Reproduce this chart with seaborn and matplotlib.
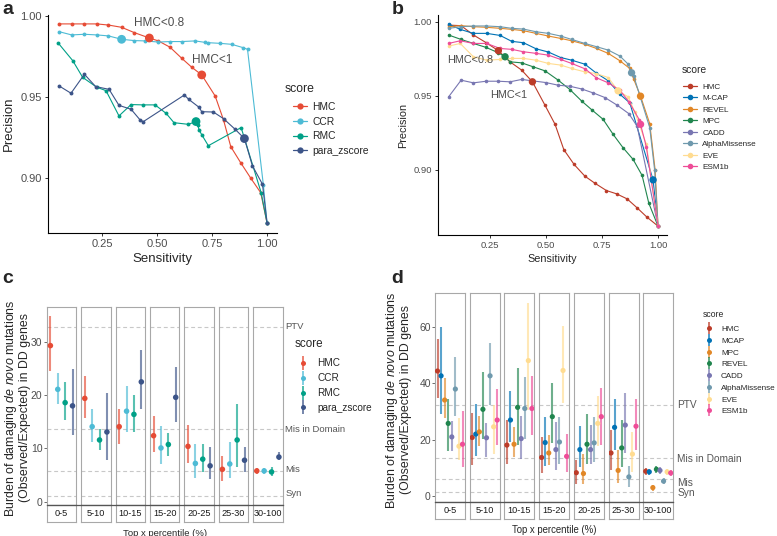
import numpy as np
import pandas as pd
import matplotlib
matplotlib.use("Agg")
import matplotlib.pyplot as plt
from matplotlib.lines import Line2D
import seaborn as sns

W, H = 777, 536

# ---------------- panel a : precision vs sensitivity ----------------
a_scores = ["HMC", "CCR", "RMC", "para_zscore"]
a_palette = ["#E64B35", "#4DBBD5", "#00A087", "#3C5488"]

a_hmc_sens = [0.055, 0.112, 0.170, 0.226, 0.279, 0.339, 0.397, 0.465, 0.506, 0.559,
              0.612, 0.658, 0.703, 0.764, 0.802, 0.835, 0.880, 0.926, 0.971, 1.000]
a_hmc_prec = [0.9951, 0.9951, 0.9951, 0.9951, 0.9944, 0.9930, 0.9897, 0.9864, 0.9846, 0.9807,
              0.9739, 0.9683, 0.9636, 0.9506, 0.9358, 0.9193, 0.9094, 0.8998, 0.8909, 0.8720]
a_ccr_sens = [0.055, 0.112, 0.170, 0.226, 0.279, 0.339, 0.397, 0.445, 0.506, 0.559,
              0.612, 0.673, 0.718, 0.733, 0.786, 0.839, 0.892, 0.911, 0.983, 1.000]
a_ccr_prec = [0.9903, 0.9883, 0.9887, 0.9883, 0.9877, 0.9856, 0.9848, 0.9846, 0.9839, 0.9842,
              0.9842, 0.9846, 0.9837, 0.9835, 0.9831, 0.9825, 0.9804, 0.9794, 0.8957, 0.8720]
a_rmc_sens = [0.052, 0.117, 0.162, 0.226, 0.268, 0.327, 0.382, 0.435, 0.491, 0.541,
              0.577, 0.642, 0.677, 0.685, 0.691, 0.703, 0.733, 0.882, 0.973, 1.000]
a_rmc_prec = [0.9831, 0.9724, 0.9621, 0.9560, 0.9539, 0.9383, 0.9453, 0.9451, 0.9451, 0.9399,
              0.9341, 0.9331, 0.9348, 0.9327, 0.9296, 0.9267, 0.9199, 0.9311, 0.8909, 0.8720]
a_para_sens = [0.055, 0.109, 0.170, 0.221, 0.282, 0.327, 0.382, 0.423, 0.438, 0.624,
               0.644, 0.691, 0.703, 0.756, 0.802, 0.855, 0.897, 0.933, 0.979, 1.000]
a_para_prec = [0.9568, 0.9523, 0.9640, 0.9564, 0.9547, 0.9448, 0.9424, 0.9358, 0.9348, 0.9512,
               0.9485, 0.9436, 0.9409, 0.9407, 0.9366, 0.9300, 0.9243, 0.9076, 0.8961, 0.8720]

a_big_score = ["HMC", "HMC", "CCR", "RMC", "para_zscore"]
a_big_sens = [0.465, 0.703, 0.339, 0.677, 0.897]
a_big_prec = [0.9864, 0.9636, 0.9856, 0.9348, 0.9243]
a_notes = ["HMC<0.8", "HMC<1"]
a_note_sens = [0.51, 0.75]
a_note_prec = [0.9957, 0.9728]

# ---------------- panel b ----------------
b_scores = ["HMC", "M-CAP", "REVEL", "MPC", "CADD", "AlphaMissense", "EVE", "ESM1b"]
b_palette = ["#BC3C29", "#0072B5", "#E18727", "#20854E", "#7876B1", "#6F99AD", "#FFDC91", "#EE4C97"]

b_hmc_sens = [0.066, 0.122, 0.177, 0.234, 0.288, 0.340, 0.392, 0.440, 0.496, 0.541,
              0.580, 0.626, 0.674, 0.718, 0.770, 0.815, 0.862, 0.907, 0.951, 1.000]
b_hmc_prec = [0.9977, 0.9973, 0.9910, 0.9858, 0.9804, 0.9729, 0.9673, 0.9594, 0.9436, 0.9307,
              0.9136, 0.9036, 0.8957, 0.8910, 0.8860, 0.8838, 0.8804, 0.8743, 0.8680, 0.8620]
b_mcap_sens = [0.066, 0.118, 0.177, 0.236, 0.296, 0.348, 0.400, 0.456, 0.511, 0.566,
               0.615, 0.674, 0.723, 0.778, 0.830, 0.874, 0.978, 1.000]
b_mcap_prec = [0.9984, 0.9948, 0.9921, 0.9921, 0.9907, 0.9867, 0.9858, 0.9817, 0.9795, 0.9758,
               0.9740, 0.9713, 0.9655, 0.9601, 0.9510, 0.9452, 0.8932, 0.8620]
b_revel_sens = [0.066, 0.122, 0.177, 0.234, 0.296, 0.348, 0.400, 0.456, 0.511, 0.566,
                0.615, 0.674, 0.726, 0.778, 0.830, 0.874, 0.892, 0.922, 0.963, 0.987, 1.000]
b_revel_prec = [0.9966, 0.9973, 0.9966, 0.9962, 0.9955, 0.9948, 0.9939, 0.9921, 0.9903, 0.9887,
                0.9871, 0.9847, 0.9819, 0.9786, 0.9736, 0.9684, 0.9610, 0.9497, 0.9312, 0.9000, 0.8620]
b_mpc_sens = [0.066, 0.122, 0.177, 0.234, 0.288, 0.318, 0.340, 0.392, 0.444, 0.496,
              0.555, 0.607, 0.659, 0.707, 0.755, 0.800, 0.844, 0.889, 0.929, 0.959, 1.000]
b_mpc_prec = [0.9910, 0.9880, 0.9853, 0.9826, 0.9790, 0.9763, 0.9729, 0.9722, 0.9695, 0.9668,
              0.9605, 0.9542, 0.9465, 0.9402, 0.9341, 0.9239, 0.9149, 0.9070, 0.8962, 0.8774, 0.8620]
b_cadd_sens = [0.066, 0.122, 0.177, 0.234, 0.288, 0.340, 0.392, 0.444, 0.500, 0.555,
               0.607, 0.659, 0.711, 0.763, 0.818, 0.870, 0.907, 1.000]
b_cadd_prec = [0.9492, 0.9605, 0.9587, 0.9598, 0.9598, 0.9594, 0.9610, 0.9600, 0.9589, 0.9571,
               0.9564, 0.9546, 0.9519, 0.9488, 0.9436, 0.9379, 0.9294, 0.8620]
b_am_sens = [0.066, 0.122, 0.177, 0.234, 0.296, 0.348, 0.400, 0.456, 0.511, 0.566,
             0.615, 0.674, 0.726, 0.778, 0.830, 0.867, 0.882, 0.892, 0.963, 0.985, 1.000]
b_am_prec = [0.9955, 0.9966, 0.9971, 0.9971, 0.9966, 0.9955, 0.9950, 0.9932, 0.9921, 0.9903,
             0.9880, 0.9853, 0.9831, 0.9808, 0.9768, 0.9713, 0.9655, 0.9632, 0.9285, 0.8996, 0.8620]
b_eve_sens = [0.066, 0.118, 0.177, 0.236, 0.296, 0.348, 0.400, 0.456, 0.511, 0.566,
              0.615, 0.674, 0.723, 0.778, 0.822, 0.867, 0.896, 0.948, 1.000]
b_eve_prec = [0.9835, 0.9853, 0.9763, 0.9740, 0.9745, 0.9752, 0.9752, 0.9740, 0.9718, 0.9707,
              0.9684, 0.9661, 0.9650, 0.9623, 0.9533, 0.9492, 0.9391, 0.9172, 0.8620]
b_esm_sens = [0.066, 0.118, 0.177, 0.236, 0.296, 0.348, 0.400, 0.456, 0.511, 0.566,
              0.615, 0.674, 0.723, 0.778, 0.830, 0.871, 0.916, 0.922, 0.948, 1.000]
b_esm_prec = [0.9853, 0.9871, 0.9853, 0.9853, 0.9819, 0.9813, 0.9797, 0.9786, 0.9774, 0.9745,
              0.9718, 0.9682, 0.9623, 0.9587, 0.9537, 0.9458, 0.9339, 0.9307, 0.9154, 0.8620]

b_big_score = ["HMC", "HMC", "MPC", "M-CAP", "REVEL", "AlphaMissense", "EVE", "ESM1b"]
b_big_sens = [0.288, 0.440, 0.318, 0.978, 0.922, 0.882, 0.822, 0.922]
b_big_prec = [0.9804, 0.9594, 0.9763, 0.8932, 0.9497, 0.9655, 0.9533, 0.9307]
b_notes = ["HMC<0.8", "HMC<1"]
b_note_sens = [0.162, 0.335]
b_note_prec = [0.9741, 0.9504]

# ---------------- panels c / d : burden (obs/exp) per percentile bin ----------------
bins = ["0-5", "5-10", "10-15", "15-20", "20-25", "25-30", "30-100"]
ref_names = ["PTV", "Mis in Domain", "Mis", "Syn"]

c_scores = ["HMC", "CCR", "RMC", "para_zscore"]
c_mid = [[29.3, 21.1, 18.6, 18.0],
         [19.4, 14.1, 11.6, 13.1],
         [14.1, 17.0, 16.4, 22.5],
         [12.4, 10.1, 10.75, 19.6],
         [10.4, 7.2, 8.0, 6.75],
         [6.1, 7.1, 11.6, 7.8],
         [5.8, 5.8, 5.6, 8.4]]
c_lo = [[24.6, 18.4, 15.3, 12.6],
        [15.75, 11.25, 9.7, 7.8],
        [10.9, 13.1, 13.1, 17.5],
        [9.25, 7.0, 8.6, 14.9],
        [7.2, 4.5, 5.6, 4.2],
        [3.9, 4.4, 6.6, 5.6],
        [5.2, 5.2, 4.8, 7.8]]
c_hi = [[34.9, 24.1, 22.4, 24.9],
        [23.6, 17.5, 13.75, 20.5],
        [17.5, 21.75, 20.1, 28.4],
        [16.1, 14.25, 13.0, 25.3],
        [14.4, 10.75, 10.75, 10.3],
        [8.6, 11.25, 18.4, 10.3],
        [6.4, 6.4, 6.6, 9.4]]
c_ref = [32.8, 13.7, 5.8, 1.0]

d_scores = ["HMC", "MCAP", "MPC", "REVEL", "CADD", "AlphaMissense", "EVE", "ESM1b"]
d_mid = [[44.4, 42.7, 34.1, 25.8, 21.0, 38.0, 17.7, 18.4],
         [20.8, 22.0, 22.8, 30.8, 20.7, 42.7, 24.6, 27.0],
         [18.1, 27.0, 18.4, 31.5, 20.4, 31.1, 48.1, 31.1],
         [13.7, 19.0, 15.3, 28.2, 16.5, 19.2, 44.6, 14.1],
         [8.3, 16.5, 8.0, 18.4, 16.5, 18.9, 25.8, 28.2],
         [15.3, 24.4, 9.1, 17.1, 25.2, 6.8, 14.9, 24.8],
         [8.8, 8.6, 3.0, 9.5, 9.1, 5.3, 8.6, 8.2]]
d_lo = [[34.7, 29.1, 27.6, 16.0, 16.0, 28.4, 12.7, 10.3],
        [10.9, 14.1, 17.7, 20.4, 13.9, 32.3, 14.9, 18.1],
        [11.5, 19.2, 13.9, 18.1, 13.3, 20.4, 30.5, 21.6],
        [8.2, 10.6, 10.9, 18.9, 9.1, 11.5, 32.9, 8.6],
        [4.4, 10.3, 4.4, 11.3, 11.3, 12.1, 17.7, 18.1],
        [9.1, 16.5, 4.6, 10.3, 15.3, 3.2, 8.6, 16.5],
        [7.6, 7.4, 1.8, 8.3, 8.0, 4.4, 7.4, 7.0]]
d_hi = [[55.7, 60.0, 41.8, 34.3, 26.7, 49.3, 27.6, 30.3],
        [29.6, 32.7, 28.4, 44.2, 25.8, 54.5, 32.3, 37.9],
        [27.0, 37.4, 24.4, 45.4, 28.4, 42.2, 68.6, 42.7],
        [21.0, 28.2, 21.6, 40.3, 26.4, 28.2, 60.5, 22.0],
        [12.7, 24.8, 15.1, 29.1, 25.2, 27.9, 35.5, 38.3],
        [23.6, 34.3, 16.3, 27.0, 36.5, 10.6, 22.8, 34.3],
        [10.0, 9.7, 4.0, 10.6, 10.3, 6.4, 9.7, 9.4]]
d_ref = [32.4, 13.6, 5.9, 1.3]


# ---------------- helpers ----------------
def px_box(l, t, r, b):
    return [l / W, 1 - b / H, (r - l) / W, (b - t) / H]


def long_df(names, sens_lists, prec_lists):
    parts = [pd.DataFrame({"score": n, "sens": s, "prec": p})
             for n, s, p in zip(names, sens_lists, prec_lists)]
    return pd.concat(parts, ignore_index=True)


def pr_panel(box, df, big, order, palette, xlim, ylim, yticks, notes, fs):
    ax = fig.add_axes(box)
    sns.lineplot(data=df, x="sens", y="prec", hue="score", hue_order=order, palette=palette,
                 sort=False, estimator=None, marker="o", markersize=fs["ms"], markeredgewidth=0,
                 linewidth=0.8, legend=False, ax=ax)
    sns.scatterplot(data=big, x="sens", y="prec", hue="score", hue_order=order, palette=palette,
                    s=fs["big"], linewidth=0, legend=False, ax=ax, zorder=5)
    for txt, x, y in zip(*notes):
        ax.text(x, y, txt, ha="center", va="center", fontsize=fs["note"], color="#4D4D4D")
    ax.set_xlim(*xlim)
    ax.set_ylim(*ylim)
    ax.set_xticks([0.25, 0.50, 0.75, 1.00])
    ax.set_xticklabels(["0.25", "0.50", "0.75", "1.00"])
    ax.set_yticks(yticks)
    ax.set_yticklabels([f"{v:.2f}" for v in yticks])
    sns.despine(ax=ax)
    for s in ("left", "bottom"):
        ax.spines[s].set_color("black")
        ax.spines[s].set_linewidth(0.8)
    ax.tick_params(bottom=True, left=True, length=2.5, width=0.7, color="#333333",
                   labelsize=fs["tick"], labelcolor="#4D4D4D", pad=2)
    ax.set_xlabel("Sensitivity", fontsize=fs["lab"], labelpad=3)
    ax.set_ylabel("Precision", fontsize=fs["lab"], labelpad=4)
    return ax


def line_legend(order, palette, title, tx, ty, left, top, fs, tfs, h, pad, sp, ms):
    fig.text(tx / W, 1 - ty / H, title, fontsize=tfs, va="center", ha="left")
    handles = [Line2D([0], [0], color=c, lw=0.9, marker="o", ms=ms, mew=0) for c in palette]
    fig.legend(handles, order, loc="upper left", bbox_to_anchor=(left / W, 1 - top / H),
               frameon=False, fontsize=fs, handlelength=h, handletextpad=pad,
               labelspacing=sp, borderpad=0, borderaxespad=0)


def range_legend(order, palette, title, tx, ty, left, top, fs, tfs, h, pad, sp, bar):
    fig.text(tx / W, 1 - ty / H, title, fontsize=tfs, va="center", ha="left")
    handles = [(Line2D([], [], ls="", marker="|", ms=bar, mew=1.4, color=c, alpha=0.7),
                Line2D([], [], ls="", marker="o", ms=3.6, mew=0, color=c)) for c in palette]
    fig.legend(handles, order, loc="upper left", bbox_to_anchor=(left / W, 1 - top / H),
               frameon=False, fontsize=fs, handlelength=h, handletextpad=pad,
               labelspacing=sp, borderpad=0, borderaxespad=0)


def burden_panel(x0, fw, gap, top, bottom, strip_h, scores, palette, mid, lo, hi,
                 ref, ref_nudge, ylim, yticks, fs):
    axes = []
    n = len(scores)
    for i, b in enumerate(bins):
        left = x0 + i * (fw + gap)
        ax = fig.add_axes(px_box(left, top, left + fw, bottom))
        fd = pd.DataFrame({"pos": np.arange(n), "score": scores,
                           "mid": mid[i], "lo": lo[i], "hi": hi[i]})
        for y in ref:
            ax.axhline(y, color="#C8C8C8", lw=0.8, ls=(0, (3.5, 2.5)), zorder=0)
        ax.vlines(fd["pos"], fd["lo"], fd["hi"], colors=palette, lw=1.5, alpha=0.65, zorder=2)
        sns.scatterplot(data=fd, x="pos", y="mid", hue="score", hue_order=scores, palette=palette,
                        s=fs["pt"], linewidth=0, legend=False, ax=ax, zorder=3)
        ax.set_xlim(-fs["xpad"], n - 1 + fs["xpad"])
        ax.set_ylim(*ylim)
        ax.set_xticks([])
        ax.set_xlabel("")
        ax.set_ylabel("")
        for s in ax.spines.values():
            s.set_visible(True)
            s.set_color("#A8A8A8")
            s.set_linewidth(0.8)
        ax.spines["bottom"].set_color("#555555")
        ax.set_yticks(yticks)
        if i == 0:
            ax.tick_params(axis="y", left=True, length=2, width=0.6, color="#555555",
                           labelsize=fs["tick"], labelcolor="#4D4D4D", pad=1)
        else:
            ax.tick_params(axis="y", left=False, labelleft=False)
        # strip below panel
        sax = fig.add_axes(px_box(left, bottom, left + fw, bottom + strip_h))
        sax.set_xticks([])
        sax.set_yticks([])
        for s in sax.spines.values():
            s.set_color("#A8A8A8")
            s.set_linewidth(0.8)
        sax.spines["top"].set_color("#555555")
        sax.text(0.5, 0.5, b, ha="center", va="center", fontsize=fs["strip"], color="#1A1A1A",
                 transform=sax.transAxes)
        axes.append(ax)
    last = axes[-1]
    for name, y, dy in zip(ref_names, ref, ref_nudge):
        last.annotate(name, xy=(1, y + dy), xycoords=("axes fraction", "data"),
                      xytext=(fs["refx"], 0), textcoords="offset points",
                      ha="left", va="center", fontsize=fs["ref"], color="#555555")
    right = x0 + len(bins) * fw + (len(bins) - 1) * gap
    fig.add_artist(Line2D([x0 / W, right / W], [1 - bottom / H] * 2, color="#555555", lw=0.9))
    fig.text((x0 + right) / 2 / W, 1 - (bottom + strip_h + 11) / H, "Top x percentile (%)",
             ha="center", va="center", fontsize=fs["xlab"])
    return axes


# ---------------- figure ----------------
sns.set_theme(style="white")
plt.rcParams["font.family"] = ["Liberation Sans", "DejaVu Sans"]
plt.rcParams["mathtext.fontset"] = "custom"
plt.rcParams["mathtext.rm"] = "Liberation Sans"
plt.rcParams["mathtext.it"] = "Liberation Sans:italic"

fig = plt.figure(figsize=(W / 100, H / 100), dpi=100)

# panel a
df_a = long_df(a_scores, [a_hmc_sens, a_ccr_sens, a_rmc_sens, a_para_sens],
               [a_hmc_prec, a_ccr_prec, a_rmc_prec, a_para_prec])
big_a = pd.DataFrame({"score": a_big_score, "sens": a_big_sens, "prec": a_big_prec})
pr_panel(px_box(48, 15, 277, 233), df_a, big_a, a_scores, a_palette,
         (0.0045, 1.045), (0.866, 1.0006), [0.90, 0.95, 1.00],
         (a_notes, a_note_sens, a_note_prec),
         {"ms": 2.8, "big": 40, "note": 8.5, "tick": 8, "lab": 9.5})
line_legend(a_scores, a_palette, "score", 285, 89, 293, 102, 7.4, 8.8, 1.36, 0.5, 0.45, 4.5)

# panel b
df_b = long_df(b_scores,
               [b_hmc_sens, b_mcap_sens, b_revel_sens, b_mpc_sens, b_cadd_sens, b_am_sens, b_eve_sens, b_esm_sens],
               [b_hmc_prec, b_mcap_prec, b_revel_prec, b_mpc_prec, b_cadd_prec, b_am_prec, b_eve_prec, b_esm_prec])
big_b = pd.DataFrame({"score": b_big_score, "sens": b_big_sens, "prec": b_big_prec})
pr_panel(px_box(438, 15, 667, 235), df_b, big_b, b_scores, b_palette,
         (0.019, 1.04), (0.856, 1.0045), [0.90, 0.95, 1.00],
         (b_notes, b_note_sens, b_note_prec),
         {"ms": 2.6, "big": 28, "note": 7.8, "tick": 6.8, "lab": 7.8})
line_legend(b_scores, b_palette, "score", 682, 70, 683, 83, 5.9, 7.4, 1.74, 0.62, 0.46, 4)

# panel c
burden_panel(46.7, 29.5, 4.9, 306.7, 505, 17, c_scores, a_palette, c_mid, c_lo, c_hi,
             c_ref, [0.1, -0.1, 0.2, 0.6], (-0.6, 36.6), [0, 10, 20, 30],
             {"pt": 16, "xpad": 0.5, "tick": 7.5, "strip": 6.6, "ref": 6.8, "refx": 2, "xlab": 6.8})
range_legend(c_scores, a_palette, "score", 295, 344.3, 296, 358.5, 7.2, 8.4, 1.46, 0.67, 0.48, 10)

# panel d
burden_panel(435, 30, 4.7, 293.3, 501.7, 17.6, d_scores, b_palette, d_mid, d_lo, d_hi,
             d_ref, [0.0, -0.5, -1.2, -0.2], (-2.0, 72.0), [0, 20, 40, 60],
             {"pt": 14, "xpad": 0.7, "tick": 7.5, "strip": 6.6, "ref": 7.3, "refx": 3, "xlab": 6.9})
range_legend(d_scores, b_palette, "score", 702.7, 314.3, 703, 325.3, 5.9, 6.2, 1.46, 0.73, 0.49, 9)

# y labels of c and d
ylab = "Burden of damaging $\\mathit{de\\ novo}$ mutations\n(Observed/Expected) in DD genes"
fig.text(17 / W, 1 - 408 / H, ylab, rotation=90, ha="center", va="center", fontsize=8.9,
         linespacing=1.1)
fig.text(398 / W, 1 - 400 / H, ylab, rotation=90, ha="center", va="center", fontsize=8.9,
         linespacing=1.1)

# panel letters
for letter, x, y in [("a", 2, 1), ("b", 392, 1), ("c", 2, 270), ("d", 391, 270)]:
    fig.text(x / W, 1 - y / H, letter, fontsize=14, fontweight="bold", va="top", ha="left")

fig.savefig("out.png", dpi=100)
